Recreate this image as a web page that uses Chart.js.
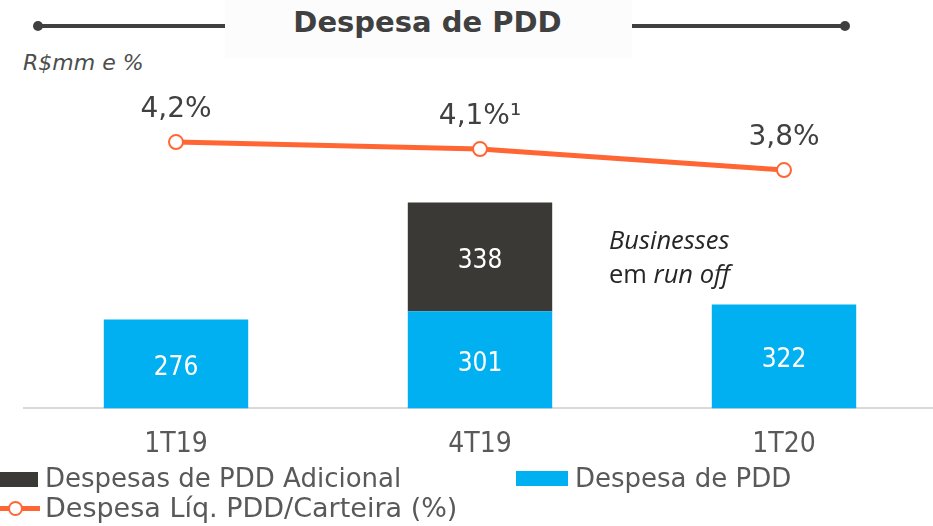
<!DOCTYPE html>
<html>
<head>
<meta charset="utf-8">
<script src="https://cdn.jsdelivr.net/npm/chart.js@4"></script>
<style>
  body { margin: 0; background: #fff; }
  #wrap { position: relative; width: 933px; height: 526px; overflow: hidden; font-family: 'DejaVu Sans', sans-serif; }
  #chart { position: absolute; left: 0; top: 0; }
  .title-bg { position: absolute; left: 225px; top: 0; width: 407px; height: 58px; background: #fcfcfc; }
  .rule { position: absolute; top: 24px; height: 4px; background: #404040; }
  .dot { position: absolute; top: 21px; width: 10px; height: 10px; border-radius: 50%; background: #404040; }
  .title { position: absolute; left: 0; top: 8px; width: 855px; text-align: center; font: bold 29px/29px 'DejaVu Sans'; color: #404040; }
  .unit { position: absolute; left: 23px; top: 52px; font: italic 22px/22px 'DejaVu Sans'; color: #4d4d4d; }
  .note { position: absolute; left: 609px; top: 222px; font: 25.5px/34px 'Open Sans'; color: #262626; }
  .legend { position: absolute; font: 26px/26px 'DejaVu Sans'; color: #595959; white-space: nowrap; }
  .legend .box { position: absolute; height: 15px; }
</style>
</head>
<body>
<div id="wrap">
  <div class="title-bg"></div>
  <div class="rule" style="left:38px;width:187px"></div>
  <div class="dot" style="left:33px"></div>
  <div class="rule" style="left:632px;width:213px"></div>
  <div class="dot" style="left:840px"></div>
  <div class="title">Despesa de PDD</div>
  <div class="unit">R$mm e %</div>
  <canvas id="chart" width="945" height="526"></canvas>
  <div class="note"><i>Businesses</i><br>em <i>run off</i></div>
  <div id="legend"></div>
</div>
<script>
const categorias = ['1T19', '4T19', '1T20'];
const despesaPDD = [276, 301, 322];
const pddAdicional = [null, 338, null];
const despesaLiqCarteira = [4.2, 4.1, 3.8];
const notasCarteira = ['', '\u00B9', ''];

const azul = '#00B0F0';
const escuro = '#3B3936';
const laranja = '#FF6633';
const condensed = "'DejaVu Sans Condensed', 'DejaVu Sans'";

// rótulos de valor dentro das barras e acima dos pontos
const valueLabels = {
  id: 'valueLabels',
  afterDatasetsDraw(chart) {
    const ctx = chart.ctx;
    ctx.save();
    ctx.textAlign = 'center';
    ctx.textBaseline = 'middle';
    chart.data.datasets.forEach((ds, i) => {
      const meta = chart.getDatasetMeta(i);
      meta.data.forEach((el, j) => {
        const v = ds.data[j];
        if (v == null) return;
        if (ds.type === 'line') {
          ctx.font = "28px 'DejaVu Sans'";
          ctx.fillStyle = '#404040';
          const txt = v.toFixed(1).replace('.', ',') + '%' + notasCarteira[j];
          ctx.fillText(txt, el.x, el.y - 32);
        } else {
          ctx.font = '26px ' + condensed;
          ctx.fillStyle = '#ffffff';
          ctx.fillText(String(v), el.x, (el.y + el.base) / 2 + 4);
        }
      });
    });
    ctx.restore();
  }
};

const chart = new Chart(document.getElementById('chart'), {
  data: {
    labels: categorias,
    datasets: [
      { type: 'line', label: 'Despesa Líq. PDD/Carteira (%)', data: despesaLiqCarteira, yAxisID: 'y2',
        borderColor: laranja, borderWidth: 5, pointRadius: 7, pointBorderWidth: 2,
        pointBackgroundColor: '#ffffff', pointBorderColor: laranja, order: 0 },
      { type: 'bar', label: 'Despesa de PDD', data: despesaPDD, backgroundColor: azul,
        barPercentage: 0.475, categoryPercentage: 1, order: 1 },
      { type: 'bar', label: 'Despesas de PDD Adicional', data: pddAdicional, backgroundColor: escuro,
        barPercentage: 0.475, categoryPercentage: 1, order: 1 }
    ]
  },
  options: {
    responsive: false,
    animation: false,
    devicePixelRatio: 1,
    layout: { padding: { left: 24, right: 0, top: 86, bottom: 44 } },
    plugins: { legend: { display: false }, tooltip: { enabled: false } },
    scales: {
      x: {
        stacked: true,
        grid: { display: false, drawTicks: false },
        border: { display: true, color: '#d9d9d9', width: 2 },
        ticks: { padding: 20, color: '#595959', font: { family: condensed, size: 28 } }
      },
      y: { stacked: true, display: false, min: 0, max: 1000 },
      y2: { display: false, min: 0.4, max: 5.0, position: 'right' }
    }
  },
  plugins: [valueLabels]
});

// legenda em HTML a partir dos datasets
const legend = document.getElementById('legend');
const ds = chart.data.datasets;
const items = [
  { d: ds[2], left: 45, top: 465, size: 26, box: 'left:-45px;top:7px;width:38px;' },
  { d: ds[1], left: 575, top: 465, size: 26, box: 'left:-59px;top:6px;width:52px;' },
  { d: ds[0], left: 45, top: 495, size: 27, line: true }
];
items.forEach(it => {
  const div = document.createElement('div');
  div.className = 'legend';
  div.style.left = it.left + 'px';
  div.style.top = it.top + 'px';
  div.style.fontSize = it.size + 'px';
  div.textContent = it.d.label;
  if (it.line) {
    const ln = document.createElement('div');
    ln.style.cssText = 'position:absolute;left:-45px;top:11px;width:40px;height:5px;background:' + laranja;
    const c = document.createElement('div');
    c.style.cssText = 'position:absolute;left:-37px;top:6px;width:11px;height:11px;border-radius:50%;background:#fff;border:2px solid ' + laranja;
    div.appendChild(ln);
    div.appendChild(c);
  } else {
    const b = document.createElement('div');
    b.className = 'box';
    b.style.cssText += it.box + 'background:' + it.d.backgroundColor;
    div.appendChild(b);
  }
  legend.appendChild(div);
});
</script>
</body>
</html>
